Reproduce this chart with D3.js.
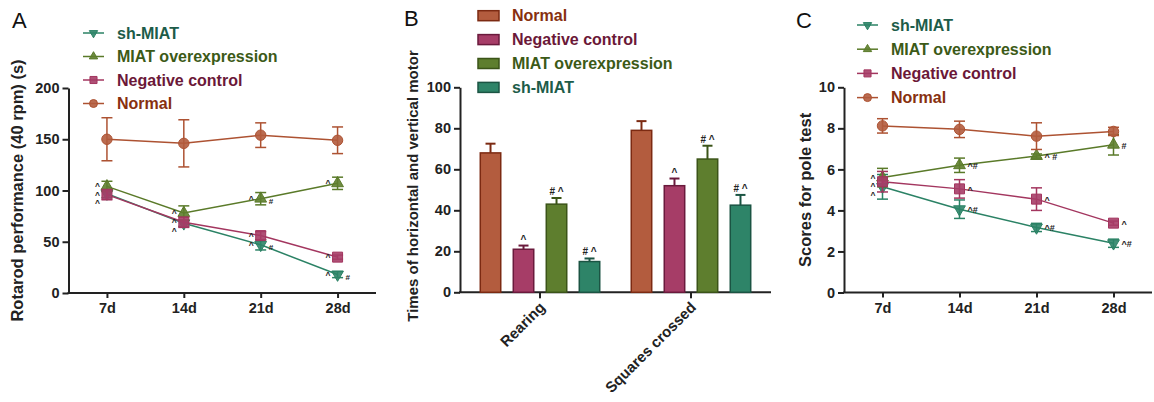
<!DOCTYPE html>
<html><head><meta charset="utf-8">
<script src="https://cdn.jsdelivr.net/npm/d3@7"></script>
<style>body{margin:0;background:#fff}svg{display:block}text{font-family:"Liberation Sans",Arial,Helvetica,sans-serif}</style>
</head><body><svg id="c" width="1154" height="402"></svg>
<script>
// ---------- data ----------
const days = ["7d", "14d", "21d", "28d"];
const lineSeries = ["sh-MIAT", "MIAT overexpression", "Negative control", "Normal"];

// Panel A: Rotarod performance (40 rpm) (s)
const rotarodTicks = [0, 50, 100, 150, 200];
const rotarodSh = [97, 68, 47, 18];
const rotarodShErr = [4, 3, 5, 3];
const rotarodMiat = [104, 78, 92, 107];
const rotarodMiatErr = [5, 7, 6, 6];
const rotarodNeg = [96, 69, 56, 35];
const rotarodNegErr = [5, 5, 4, 2];
const rotarodNormal = [150, 146, 154, 149];
const rotarodNormalErr = [21, 23, 12, 13];
const rotarodShMarks = ["^", "^", "^#", "^#"];
const rotarodMiatMarks = ["^", "^", "^#", "^"];
const rotarodNegMarks = ["^", "^", "^", "^"];
const rotarodNormalMarks = ["", "", "", ""];

// Panel B: Times of horizontal and vertical motor
const behaviours = ["Rearing", "Squares crossed"];
const barSeries = ["Normal", "Negative control", "MIAT overexpression", "sh-MIAT"];
const motorTicks = [0, 20, 40, 60, 80, 100];
const rearingVals = [68, 21, 43, 15];
const rearingErr = [4.5, 1.8, 3, 1.5];
const rearingMarks = ["", "^", "#^", "#^"];
const squaresVals = [79, 52, 65, 42.5];
const squaresErr = [4.5, 3.5, 6.5, 5];
const squaresMarks = ["", "^", "#^", "#^"];

// Panel C: Scores for pole test
const poleTicks = [0, 2, 4, 6, 8, 10];
const poleSh = [5.15, 4.06, 3.17, 2.4];
const poleShErr = [0.6, 0.45, 0.2, 0.2];
const poleMiat = [5.6, 6.2, 6.65, 7.2];
const poleMiatErr = [0.45, 0.35, 0.1, 0.5];
const poleNeg = [5.4, 5.05, 4.55, 3.38];
const poleNegErr = [0.5, 0.45, 0.55, 0.1];
const poleNormal = [8.12, 7.95, 7.62, 7.85];
const poleNormalErr = [0.35, 0.4, 0.65, 0.2];
const poleShMarks = ["^", "^#", "^#", "^#"];
const poleMiatMarks = ["^", "^#", "^ #", "#"];
const poleNegMarks = ["^", "^", "^", "^"];
const poleNormalMarks = ["", "", "", ""];

// ---------- styles ----------
const col = {
  "Normal": "#ad5232",
  "Negative control": "#a3365f",
  "MIAT overexpression": "#5a7a29",
  "sh-MIAT": "#2b8265"
};
const fillCol = {
  "Normal": "#b35c3e",
  "Negative control": "#a63d67",
  "MIAT overexpression": "#5e7e2e",
  "sh-MIAT": "#2e8468"
};
const darkCol = {
  "Normal": "#7c2a12",
  "Negative control": "#6a1a3c",
  "MIAT overexpression": "#3b5418",
  "sh-MIAT": "#1b5443"
};
const textCol = {
  "Normal": "#87300f",
  "Negative control": "#6b1838",
  "MIAT overexpression": "#3c5a17",
  "sh-MIAT": "#1d5c49"
};
const symType = {
  "Normal": d3.symbolCircle,
  "Negative control": d3.symbolSquare,
  "MIAT overexpression": d3.symbolTriangle,
  "sh-MIAT": d3.symbolTriangle
};
const symRot = {"sh-MIAT": 180};
const axisCol = "#222";

const svg = d3.select("#c");

function styleAxis(g) {
  g.selectAll("path.domain").attr("stroke", axisCol).attr("stroke-width", 2);
  g.selectAll(".tick line").attr("stroke", axisCol).attr("stroke-width", 2);
  g.selectAll(".tick text").attr("fill", "#222").attr("font-size", 14.5)
    .attr("font-weight", "bold").attr("font-family", '"Liberation Sans",Arial,sans-serif');
}

function marker(sel, name, size) {
  sel.attr("d", d3.symbol().type(symType[name]).size(size))
    .attr("fill", fillCol[name]).attr("fill-opacity", 0.9)
    .attr("stroke", col[name]).attr("stroke-width", 1);
}

function linePanel(cfg) {
  const g = svg.append("g");
  const x = d3.scalePoint().domain(days).range([cfg.left, cfg.right]).padding(0.5);
  const y = d3.scaleLinear().domain([cfg.ticks[0], cfg.ticks[cfg.ticks.length - 1]]).range([cfg.bottom, cfg.top]);

  const ya = g.append("g").attr("transform", `translate(${cfg.left},0)`)
    .call(d3.axisLeft(y).tickValues(cfg.ticks).tickSize(6).tickSizeOuter(0).tickPadding(3));
  styleAxis(ya);
  const xa = g.append("g").attr("transform", `translate(0,${cfg.bottom})`)
    .call(d3.axisBottom(x).tickSize(5).tickSizeOuter(0).tickPadding(5));
  styleAxis(xa);
  xa.select("path.domain").attr("d", `M${cfg.left - 1},0H${cfg.right}`);

  // y label
  g.append("text").attr("transform", `translate(${cfg.ylx},${(cfg.top + cfg.bottom) / 2 + cfg.yloff}) rotate(-90)`)
    .attr("text-anchor", "middle").attr("dominant-baseline", "middle")
    .attr("font-size", cfg.ylSize).attr("font-weight", "bold").attr("fill", "#222").text(cfg.ylabel);
  // panel letter
  g.append("text").attr("x", cfg.letterX).attr("y", cfg.letterY).attr("font-size", 22).attr("fill", "#111").text(cfg.letter);

  cfg.series.forEach(s => {
    const pts = s.vals.map((v, i) => ({x: x(days[i]), y: y(v), lo: y(v - s.errs[i]), hi: y(v + s.errs[i])}));
    g.append("path").datum(pts).attr("fill", "none").attr("stroke", col[s.name]).attr("stroke-width", 1.5)
      .attr("d", d3.line().x(d => d.x).y(d => d.y));
    const eb = g.append("g").attr("stroke", col[s.name]).attr("stroke-width", 1.5);
    pts.forEach(p => {
      eb.append("line").attr("x1", p.x).attr("x2", p.x).attr("y1", p.lo).attr("y2", p.hi);
      eb.append("line").attr("x1", p.x - 5.5).attr("x2", p.x + 5.5).attr("y1", p.hi).attr("y2", p.hi);
      eb.append("line").attr("x1", p.x - 5.5).attr("x2", p.x + 5.5).attr("y1", p.lo).attr("y2", p.lo);
    });
    g.selectAll(null).data(pts).join("path")
      .attr("transform", d => `translate(${d.x},${d.y}) rotate(${symRot[s.name] || 0})`)
      .call(sel => marker(sel, s.name, s.name === "Normal" ? 85 : (s.name === "Negative control" ? 100 : 60)));
  });

  // annotations
  const ann = g.append("g").attr("fill", "#222").attr("font-weight", "bold");
  days.forEach((d, i) => {
    const items = cfg.series.filter(s => s.marks[i]).map(s => ({s, py: y(s.vals[i]), px: x(d), t: s.marks[i]}));
    if (cfg.mode === "left" || i === 0) {
      // carets on the left, stacked, hash on the right
      const lefts = items.filter(it => it.t.includes("^")).map(it => ({...it, yy: it.py - 2}))
        .sort((a, b) => a.yy - b.yy);
      for (let k = 1; k < lefts.length; k++) if (lefts[k].yy < lefts[k - 1].yy + 8.5) lefts[k].yy = lefts[k - 1].yy + 8.5;
      lefts.forEach(it => ann.append("text").attr("x", it.px - 7).attr("y", it.yy + 5)
        .attr("text-anchor", "end").attr("font-size", 8.5).text("^"));
      items.filter(it => it.t.includes("#")).forEach(it => ann.append("text")
        .attr("x", it.px + 8).attr("y", it.py + 5).attr("font-size", 8).text("#"));
    } else {
      items.forEach(it => ann.append("text").attr("x", it.px + 8).attr("y", it.py + 4)
        .attr("font-size", 9).text(it.t));
    }
  });

  // legend
  const lg = g.append("g");
  cfg.series.forEach((s, k) => {
    const yy = cfg.legY + k * cfg.legStep;
    lg.append("line").attr("x1", cfg.legX).attr("x2", cfg.legX + 21).attr("y1", yy).attr("y2", yy)
      .attr("stroke", col[s.name]).attr("stroke-width", 1.5);
    lg.append("path").attr("transform", `translate(${cfg.legX + 10.5},${yy}) rotate(${symRot[s.name] || 0})`)
      .call(sel => marker(sel, s.name, s.name === "Normal" ? 50 : (s.name === "Negative control" ? 50 : 30)));
    lg.append("text").attr("x", cfg.legX + 34).attr("y", yy).attr("dominant-baseline", "central")
      .attr("font-size", 16).attr("font-weight", "bold").attr("fill", textCol[s.name]).text(s.name);
  });
}

linePanel({
  left: 68.5, right: 376, top: 88, bottom: 293,
  ticks: rotarodTicks, letter: "A", letterX: 12, letterY: 28,
  ylabel: "Rotarod performance (40 rpm) (s)", ylx: 19, yloff: 0, ylSize: 16.5,
  legX: 83, legY: 33, legStep: 23.5, mode: "left",
  series: [
    {name: "Normal", vals: rotarodNormal, errs: rotarodNormalErr, marks: rotarodNormalMarks},
    {name: "Negative control", vals: rotarodNeg, errs: rotarodNegErr, marks: rotarodNegMarks},
    {name: "MIAT overexpression", vals: rotarodMiat, errs: rotarodMiatErr, marks: rotarodMiatMarks},
    {name: "sh-MIAT", vals: rotarodSh, errs: rotarodShErr, marks: rotarodShMarks}
  ].reverse()
});

linePanel({
  left: 844, right: 1152, top: 87.3, bottom: 292.5,
  ticks: poleTicks, letter: "C", letterX: 796, letterY: 28,
  ylabel: "Scores for pole test", ylx: 807, yloff: 0, ylSize: 16.5,
  legX: 857, legY: 25, legStep: 24.2, mode: "right",
  series: [
    {name: "sh-MIAT", vals: poleSh, errs: poleShErr, marks: poleShMarks},
    {name: "MIAT overexpression", vals: poleMiat, errs: poleMiatErr, marks: poleMiatMarks},
    {name: "Negative control", vals: poleNeg, errs: poleNegErr, marks: poleNegMarks},
    {name: "Normal", vals: poleNormal, errs: poleNormalErr, marks: poleNormalMarks}
  ]
});

// ---------- Panel B (bars) ----------
(function () {
  const L = 460, R = 771, T = 87.3, B = 292.3;
  const g = svg.append("g");
  const x0 = d3.scaleBand().domain(behaviours).range([L, R]).paddingInner(0).paddingOuter(0.03);
  const x1 = d3.scaleBand().domain(barSeries).range([-66, 66]).paddingInner(0.38).paddingOuter(0.19);
  const y = d3.scaleLinear().domain([0, 100]).range([B, T]);

  const ya = g.append("g").attr("transform", `translate(${L},0)`)
    .call(d3.axisLeft(y).tickValues(motorTicks).tickSize(6).tickSizeOuter(0).tickPadding(3));
  styleAxis(ya);
  const xa = g.append("g").attr("transform", `translate(0,${B})`)
    .call(d3.axisBottom(x0).tickSize(6).tickSizeOuter(0).tickFormat(""));
  styleAxis(xa);
  xa.select("path.domain").attr("d", `M${L - 1},0H${R}`);
  behaviours.forEach(b => {
    const cx = x0(b) + x0.bandwidth() / 2;
    g.append("text").attr("transform", `translate(${cx + 6},${B + 16}) rotate(-45)`)
      .attr("text-anchor", "end").attr("font-size", 15).attr("font-weight", "bold").attr("fill", "#222").text(b);
  });

  const groups = [
    {b: "Rearing", vals: rearingVals, errs: rearingErr, marks: rearingMarks},
    {b: "Squares crossed", vals: squaresVals, errs: squaresErr, marks: squaresMarks}
  ];
  groups.forEach(grp => {
    const cx = x0(grp.b) + x0.bandwidth() / 2;
    barSeries.forEach((s, i) => {
      const bx = cx + x1(s), bw = x1.bandwidth(), bcx = bx + bw / 2;
      const top = y(grp.vals[i]), et = y(grp.vals[i] + grp.errs[i]);
      g.append("line").attr("x1", bcx).attr("x2", bcx).attr("y1", top).attr("y2", et)
        .attr("stroke", darkCol[s]).attr("stroke-width", 2);
      g.append("line").attr("x1", bcx - 5).attr("x2", bcx + 5).attr("y1", et).attr("y2", et)
        .attr("stroke", darkCol[s]).attr("stroke-width", 2);
      g.append("rect").attr("x", bx).attr("y", top).attr("width", bw).attr("height", B - top)
        .attr("fill", fillCol[s]).attr("stroke", darkCol[s]).attr("stroke-width", 1.5);
      if (grp.marks[i]) g.append("text").attr("x", bcx).attr("y", et - 3).attr("text-anchor", "middle")
        .attr("font-size", 10).attr("font-weight", "bold").attr("fill", "#222").text(grp.marks[i].split("").join(" "));
    });
  });

  g.append("text").attr("transform", `translate(414,186) rotate(-90)`)
    .attr("text-anchor", "middle").attr("dominant-baseline", "middle")
    .attr("font-size", 15).attr("font-weight", "bold").attr("fill", "#222").text("Times of horizontal and vertical motor");
  g.append("text").attr("x", 404).attr("y", 26).attr("font-size", 22).attr("fill", "#111").text("B");

  const lg = g.append("g");
  barSeries.forEach((s, k) => {
    const yy = 15.7 + k * 23.9;
    lg.append("rect").attr("x", 478).attr("y", yy - 5).attr("width", 21).attr("height", 10)
      .attr("fill", fillCol[s]).attr("stroke", darkCol[s]).attr("stroke-width", 1.5);
    lg.append("text").attr("x", 512).attr("y", yy).attr("dominant-baseline", "central")
      .attr("font-size", 16).attr("font-weight", "bold").attr("fill", textCol[s]).text(s);
  });
})();
</script></body></html>
